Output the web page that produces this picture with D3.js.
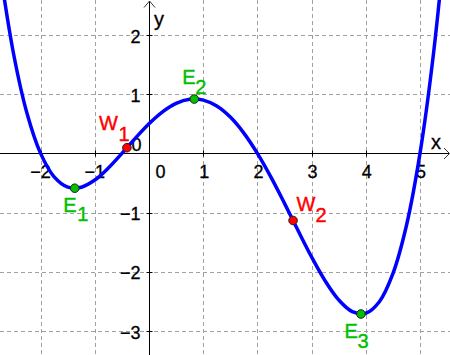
<!DOCTYPE html>
<html><head><meta charset="utf-8">
<script src="https://cdn.jsdelivr.net/npm/d3@7"></script>
<style>html,body{margin:0;padding:0;background:#fff;}svg{display:block;font-family:"Liberation Sans",Arial,sans-serif;}</style>
</head><body>
<script>
// Curve samples (x, y)
const curveX = [-2.75,-2.5,-2.25,-2,-1.75,-1.5,-1.25,-1,-0.75,-0.5,-0.25,0,0.25,0.5,0.75,1,1.25,1.5,1.75,2,2.25,2.5,2.75,3,3.25,3.5,3.75,4,4.25,4.5,4.75,5,5.25,5.5];
const curveY = [3.106,1.688,0.674,0,-0.396,-0.569,-0.571,-0.45,-0.247,0,0.258,0.5,0.701,0.844,0.913,0.9,0.8,0.613,0.343,0,-0.402,-0.844,-1.303,-1.75,-2.153,-2.475,-2.673,-2.7,-2.505,-2.031,-1.218,0,1.694,3.938];
// Marked points
const pointNames = ["E","E","E","W","W"];
const pointSubs = ["1","2","3","1","2"];
const pointX = [-1.37, 0.835, 3.91, -0.408, 2.658];
const pointY = [-0.588, 0.918, -2.713, 0.096, -1.133];
// Axis ticks
const xTicks = [-2,-1,1,2,3,4,5];
const yTicks = [-3,-2,-1,1,2];
const xTickLabels = ["\u22122","\u22121","1","2","3","4","5"];
const yTickLabels = ["\u22123","\u22122","\u22121","1","2"];

// layout / style
const W = 450, H = 355;
const labelOffsets = [[-11.5,24],[-12,-15],[-16.5,23.5],[-28,-17.5],[3.5,-9]];
const subOffsets = [[14,9],[13,9.5],[13,10],[19.5,11],[19,11]];
const green = "#00c000", red = "#ff0000";

const x = d3.scaleLinear().domain([-2,5]).range([40.6,420]);
const y = d3.scaleLinear().domain([-3,2]).range([331,35]);

const svg = d3.select("body").append("svg").attr("width",W).attr("height",H);
svg.append("rect").attr("width",W).attr("height",H).attr("fill","#fff");

// grid
const grid = svg.append("g").attr("stroke","#a0a0a0").attr("stroke-width",1).attr("stroke-dasharray","4,3");
grid.selectAll("line.v").data(xTicks).join("line")
  .attr("x1",d=>Math.round(x(d))+0.5).attr("x2",d=>Math.round(x(d))+0.5).attr("y1",0).attr("y2",H);
grid.selectAll("line.h").data(yTicks).join("line")
  .attr("y1",d=>Math.round(y(d))+0.5).attr("y2",d=>Math.round(y(d))+0.5).attr("x1",0).attr("x2",W);

// axes
const x0 = Math.round(x(0))+0.5, y0 = Math.round(y(0))+0.5;
const ax = svg.append("g").attr("stroke","#000").attr("stroke-width",1).attr("fill","none");
ax.append("line").attr("x1",0).attr("x2",W-1).attr("y1",y0).attr("y2",y0);
ax.append("line").attr("x1",x0).attr("x2",x0).attr("y1",1).attr("y2",H);
ax.append("path").attr("d",`M${x0-5.5},${7.5} L${x0},${1} L${x0+5.5},${7.5}`).attr("stroke","#333");
ax.append("path").attr("d",`M${W-6},${y0-5.5} L${W-0.5},${y0} L${W-6},${y0+5.5}`).attr("stroke","#333");
// tick marks
ax.selectAll("line.xt").data(xTicks).join("line")
  .attr("x1",d=>Math.round(x(d))+0.5).attr("x2",d=>Math.round(x(d))+0.5).attr("y1",y0-3).attr("y2",y0+3);
ax.selectAll("line.yt").data(yTicks).join("line")
  .attr("y1",d=>Math.round(y(d))+0.5).attr("y2",d=>Math.round(y(d))+0.5).attr("x1",x0-3).attr("x2",x0+3);

// tick labels
const tl = svg.append("g").attr("font-size",18).attr("fill","#000").attr("stroke","#000").attr("stroke-width",0.3);
tl.selectAll("text.x").data(xTicks).join("text")
  .attr("x",(d)=>x(d)+(d<0?0:1)).attr("y",y0+24).attr("text-anchor","middle")
  .text((d,i)=>xTickLabels[i]);
tl.selectAll("text.y").data(yTicks).join("text")
  .attr("x",x0-9).attr("y",d=>y(d)+7.5).attr("text-anchor","end")
  .text((d,i)=>yTickLabels[i]);
tl.append("text").attr("x",x0+6).attr("y",y0+24).text("0");
tl.append("text").attr("x",x0-18).attr("y",y0-3).text("0");
svg.append("text").attr("x",431).attr("y",149).attr("font-size",20).attr("stroke","#000").attr("stroke-width",0.3).text("x");
svg.append("text").attr("x",154).attr("y",26).attr("font-size",20).attr("stroke","#000").attr("stroke-width",0.3).text("y");

// curve
const pts = curveX.map((d,i)=>[d,curveY[i]]);
svg.append("path").datum(pts)
  .attr("d",d3.line().x(d=>x(d[0])).y(d=>y(d[1])).curve(d3.curveCatmullRom.alpha(0.5)))
  .attr("fill","none").attr("stroke","#0000ff").attr("stroke-width",3.5);

// points
const P = pointX.map((d,i)=>({x:d,y:pointY[i],n:pointNames[i],s:pointSubs[i],i}));
svg.selectAll("circle.p").data(P).join("circle")
  .attr("cx",d=>x(d.x)).attr("cy",d=>y(d.y)).attr("r",4.3)
  .attr("fill",d=>d.n==="E"?green:red).attr("stroke","#222").attr("stroke-width",1);
const lab = svg.selectAll("g.lab").data(P).join("g")
  .attr("fill",d=>d.n==="E"?green:red).attr("stroke",d=>d.n==="E"?green:red)
  .attr("stroke-width",0.4).attr("font-size",20);
lab.append("text").attr("x",d=>x(d.x)+labelOffsets[d.i][0]).attr("y",d=>y(d.y)+labelOffsets[d.i][1]).text(d=>d.n);
lab.append("text").attr("x",d=>x(d.x)+labelOffsets[d.i][0]+subOffsets[d.i][0])
  .attr("y",d=>y(d.y)+labelOffsets[d.i][1]+subOffsets[d.i][1]).text(d=>d.s);
</script>
</body></html>
